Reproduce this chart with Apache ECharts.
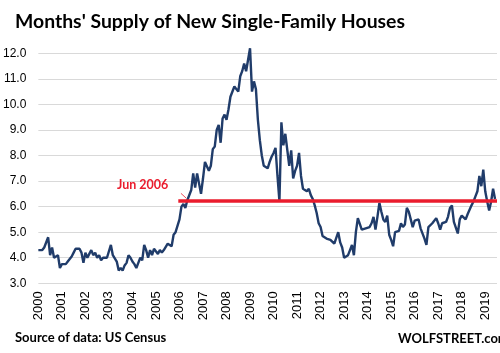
<!DOCTYPE html>
<html>
<head>
<meta charset="utf-8">
<script src="https://cdn.jsdelivr.net/npm/echarts@6/dist/echarts.min.js"></script>
<style>html,body{margin:0;padding:0;background:#fff}#c{width:500px;height:353px}</style>
</head>
<body>
<div id="c"></div>
<script>
// Months' supply, monthly, Jan 2000 .. Jun 2019
const startYear = 2000;
const supply = [
  4.3, 4.3, 4.3, 4.4, 4.4, 4.8, 4.1, 4.4, 4.0, 4.0, 4.1, 3.6,
  3.75, 3.7, 3.75, 3.85, 3.95, 4.05, 4.2, 4.35, 4.4, 4.35, 4.2, 3.8,
  4.2, 4.0, 4.15, 4.3, 4.1, 4.2, 4.0, 4.1, 3.9, 4.0, 4.0, 4.0,
  4.0, 4.5, 4.1, 4.1, 3.85, 3.5, 3.6, 3.5, 3.7, 3.8, 4.1, 4.0,
  3.85, 3.75, 3.6, 3.8, 4.0, 3.9, 4.5, 4.3, 4.0, 4.3, 4.1, 4.35,
  4.3, 4.15, 4.3, 4.2, 4.3, 4.35, 4.55, 4.6, 4.45, 4.9, 5.0, 5.0,
  5.5, 6.0, 6.1, 5.95, 6.25, 6.2, 6.65, 7.3, 6.75, 7.3, 6.9, 6.5,
  7.1, 7.75, 7.8, 7.4, 7.6, 8.25, 8.35, 9.0, 9.2, 8.5, 9.45, 9.6,
  9.4, 9.8, 10.3, 10.3, 10.7, 10.7, 10.5, 11.1, 11.3, 11.6, 11.3, 11.3,
  12.2, 10.5, 10.9, 10.6, 9.4, 8.6, 8.0, 7.6, 7.6, 7.5, 7.75, 7.95,
  8.1, 8.3, 7.2, 6.2, 9.3, 8.4, 8.85, 8.8, 7.6, 8.2, 7.1, 7.4,
  7.6, 8.1, 7.2, 6.7, 6.65, 6.6, 6.7, 6.45, 6.3, 6.05, 5.75, 5.35,
  5.2, 4.85, 4.85, 4.75, 4.7, 4.7, 4.65, 4.55, 4.55, 5.0, 4.6, 4.4,
  4.0, 4.05, 4.1, 4.3, 4.5, 4.1, 5.0, 5.55, 5.5, 5.1, 5.05, 5.15,
  5.1, 5.2, 5.35, 5.6, 5.1, 5.6, 6.15, 5.8, 5.5, 5.4, 5.65, 4.9,
  4.7, 4.45, 5.0, 5.0, 5.05, 5.35, 5.2, 5.3, 5.95, 5.8, 5.5, 5.2,
  5.45, 5.5, 5.5, 5.15, 5.1, 4.75, 4.5, 5.2, 5.2, 5.35, 5.3, 5.55,
  5.35, 5.1, 5.35, 5.35, 5.4, 5.6, 5.95, 6.05, 5.4, 5.45, 4.95, 5.5,
  5.65, 5.6, 5.5, 5.7, 5.75, 6.05, 6.2, 6.4, 6.6, 7.2, 6.8, 7.45,
  6.6, 6.2, 5.85, 6.2, 6.7, 6.3
];
const yearLabels = ['2000','2001','2002','2003','2004','2005','2006','2007','2008','2009',
  '2010','2011','2012','2013','2014','2015','2016','2017','2018','2019'];
const yTicks = [3, 4, 5, 6, 7, 8, 9, 10, 11, 12];
const refLabel = 'Jun 2006';
const refValue = 6.23;
const refStart = 71.4;   // month index where the reference line begins

const months = supply.map((v, i) => i);
const seriesData = supply.map((v, i) => [months[i], v]);

const chart = echarts.init(document.getElementById('c'), null, {renderer: 'canvas'});
chart.setOption({
  animation: false,
  backgroundColor: '#fff',
  title: [
    {text: "Months' Supply of New Single-Family Houses", left: 10, top: 7,
     textStyle: {fontFamily: 'Lato', fontWeight: 'bold', fontSize: 19.4, color: '#000'}},
    {text: 'Source of data: US Census', left: 10, top: 326,
     textStyle: {fontFamily: 'Lato', fontWeight: 'bold', fontSize: 13, color: '#000'}},
    {text: 'WOLFSTREET.com', left: 393, top: 327,
     textStyle: {fontFamily: 'Lato', fontWeight: 'bold', fontSize: 13, color: '#000'}}
  ],
  grid: {left: 38, right: 3, top: 53.3, bottom: 69.7, containLabel: false},
  xAxis: {
    type: 'value', min: 0, max: supply.length, interval: 12,
    axisLine: {show: false}, axisTick: {show: false}, splitLine: {show: false},
    axisLabel: {
      rotate: 90, margin: 8, fontSize: 13, fontFamily: 'Liberation Sans', color: '#000',
      formatter: v => (v % 12 === 0 && yearLabels[v / 12]) ? yearLabels[v / 12] : ''
    }
  },
  yAxis: {
    type: 'value', min: yTicks[0], max: yTicks[yTicks.length - 1], interval: 1,
    axisLine: {show: false}, axisTick: {show: false},
    splitLine: {lineStyle: {color: '#d9d9d9', width: 1}},
    axisLabel: {margin: 12, fontSize: 12, fontFamily: 'Liberation Sans', color: '#000',
      formatter: v => v.toFixed(1)}
  },
  series: [{
    type: 'line', data: seriesData, showSymbol: false, clip: false,
    lineStyle: {color: '#203c6a', width: 2.4},
    markLine: {
      silent: true, symbol: 'none', animation: false,
      label: {show: false},
      data: [
        [{coord: [refStart, refValue], lineStyle: {color: '#ea1c2d', width: 3.5, type: 'solid'}},
         {coord: [supply.length, refValue]}],
        [{coord: [72.75, 6.52], lineStyle: {color: '#ea1c2d', width: 0.8, type: 'solid'}},
         {coord: [75.45, 6.33]}]
      ]
    },
    markPoint: {
      silent: true, symbol: 'circle', symbolSize: 0,
      data: [{coord: [66.3, 6.85], value: refLabel,
        label: {show: true, position: 'left', distance: 0, formatter: refLabel,
          color: '#ea1c2d', fontWeight: 'bold', fontSize: 12.5, fontFamily: 'Lato'}}]
    }
  }]
});
</script>
</body>
</html>
